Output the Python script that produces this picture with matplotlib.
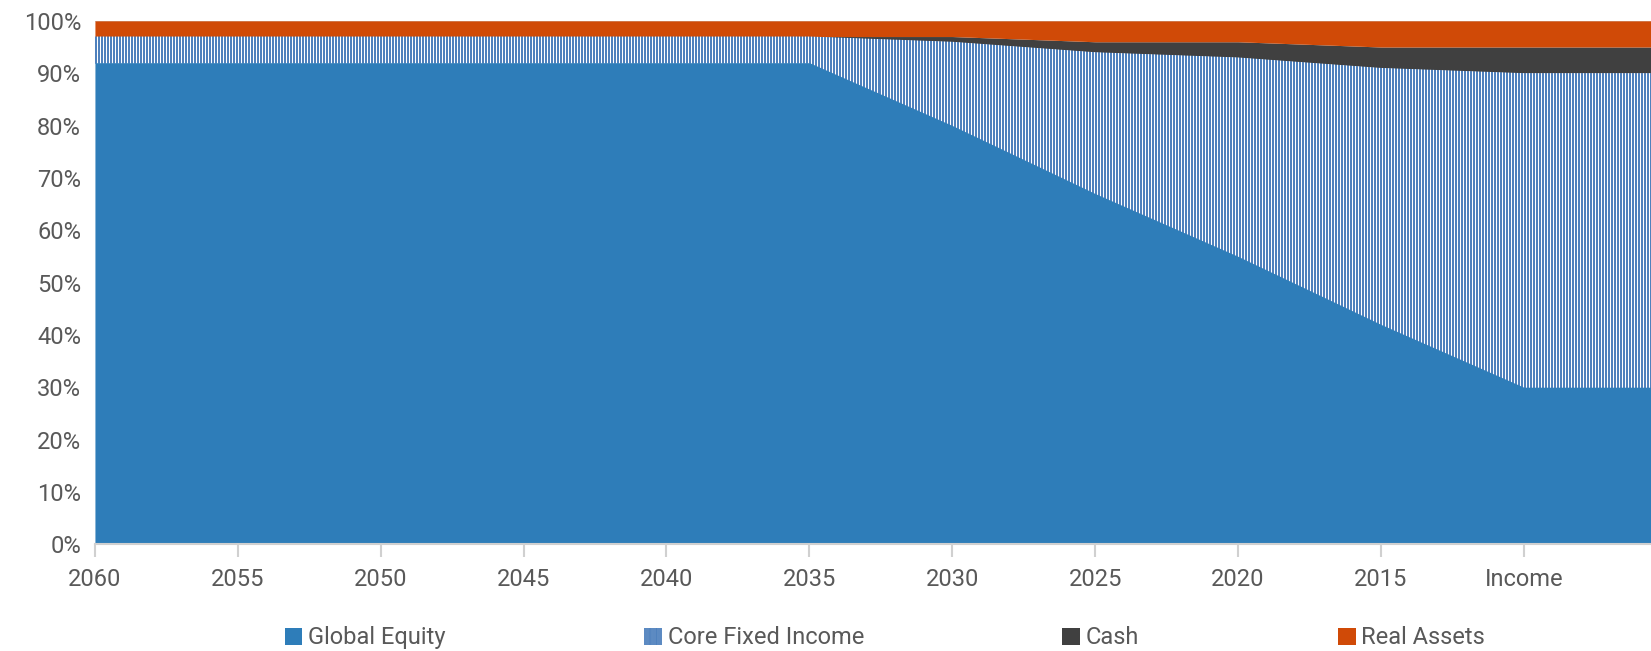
import numpy as np
import matplotlib.pyplot as plt
import matplotlib as mpl
from matplotlib.patches import Patch
from matplotlib.colors import to_rgba

# data (percent of portfolio)
labels = ['2060', '2055', '2050', '2045', '2040', '2035', '2030', '2025', '2020', '2015', 'Income', '']
global_equity = [92, 92, 92, 92, 92, 92, 80, 67, 55, 42, 30, 30]
core_fixed = [5, 5, 5, 5, 5, 5, 16, 27, 38, 49, 60, 60]
cash = [0, 0, 0, 0, 0, 0, 1, 2, 3, 4, 5, 5]
real_assets = [3, 3, 3, 3, 3, 3, 3, 4, 4, 5, 5, 5]

c_eq = '#2E7DB9'
c_fi = '#4F81BD'
c_cash = '#404040'
c_ra = '#D04A07'

mpl.rcParams['hatch.linewidth'] = 0.8
plt.rcParams['font.family'] = ['Roboto', 'DejaVu Sans']

x = np.arange(len(labels))
fig = plt.figure(figsize=(16.51, 6.51), dpi=100)
ax = fig.add_axes([0.0575, 0.164, 0.9425, 0.804])
xmax = 10.89

ge = np.array(global_equity)
fi = np.array(core_fixed)
ca = np.array(cash)
ra = np.array(real_assets)

fi_poly = ax.fill_between(x, ge - 0.2, ge + fi, facecolor='white', lw=0)
ax.fill_between(x, ge + fi, ge + fi + ca, color=c_cash, lw=0)
ax.fill_between(x, ge + fi + ca, ge + fi + ca + ra, color=c_ra, lw=0)
ax.fill_between(x, 0, ge, color=c_eq, lw=0, zorder=3)

# vertical stripe pattern for the fixed income band, one column per pixel
ax_w = int(round(0.9425 * 1651))
cols = np.arange(ax_w)
stripe = np.ones((1, ax_w, 4))
stripe[0, cols % 3 < 2] = to_rgba(c_fi)
img = ax.imshow(stripe, extent=(0, xmax, 0, 100), aspect='auto',
                interpolation='nearest', zorder=2)
img.set_clip_path(fi_poly.get_paths()[0], transform=ax.transData)

ax.set_xlim(0, xmax)
ax.set_ylim(0, 100)
ax.set_yticks(range(0, 101, 10))
ax.set_yticklabels([f'{v}%' for v in range(0, 101, 10)])
ax.set_xticks(x[:11])
ax.set_xticklabels(labels[:11])
ax.axhline(100, color='#C8C8C8', lw=1.2, zorder=0.5)

for s in ['top', 'right', 'left']:
    ax.spines[s].set_visible(False)
ax.spines['bottom'].set_color('#D0D0D0')
ax.spines['bottom'].set_linewidth(1.5)
ax.spines['bottom'].set_zorder(4)
ax.tick_params(axis='y', length=0, pad=10, labelsize=17, labelcolor='#595959')
ax.tick_params(axis='x', length=9, width=1.5, color='#D0D0D0', pad=8,
               labelsize=17, labelcolor='#595959')

handles = [Patch(facecolor=c_eq, edgecolor='none', label='Global Equity'),
           Patch(facecolor='white', edgecolor=c_fi, hatch='|' * 14, lw=0, label='Core Fixed Income'),
           Patch(facecolor=c_cash, edgecolor='none', label='Cash'),
           Patch(facecolor=c_ra, edgecolor='none', label='Real Assets')]
fig.legend(handles=handles, loc='center', bbox_to_anchor=(0.536, 0.02), ncol=4,
           frameon=False, handlelength=0.75, handleheight=0.75, handletextpad=0.25,
           columnspacing=8.4, prop={'size': 17}, labelcolor='#595959')

fig.savefig('out.png', dpi=100)
